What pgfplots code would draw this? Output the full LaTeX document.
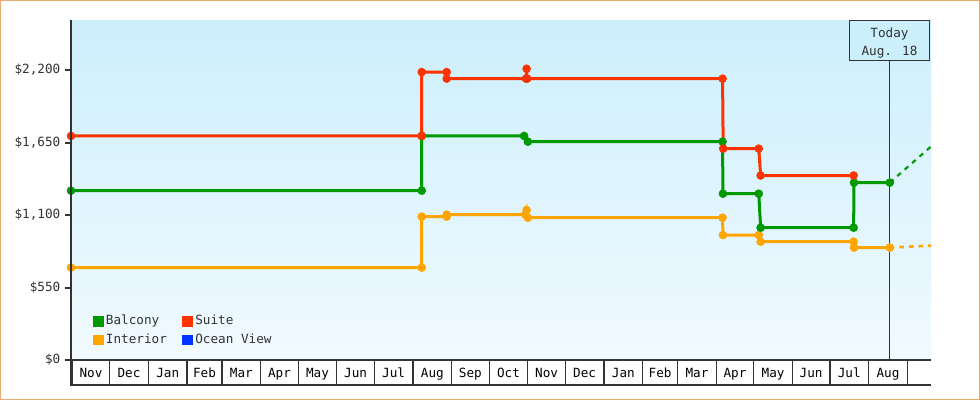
\documentclass[border=0pt]{standalone}
\usepackage{fontspec}
\setmainfont{DejaVu Sans Mono}
\usepackage{pgfplots}
\pgfplotsset{compat=1.18}
\definecolor{cBal}{RGB}{0,153,0}
\definecolor{cSui}{RGB}{255,51,0}
\definecolor{cInt}{RGB}{255,165,0}
\definecolor{cOce}{RGB}{0,51,255}
\definecolor{cGry}{RGB}{51,51,51}
\definecolor{bgtop}{RGB}{204,239,252}
\definecolor{bgbot}{RGB}{241,250,255}
\definecolor{cFrame}{RGB}{232,172,110}
\pgfplotsset{
  series/.style={line width=2.25pt, mark=*, mark size=3pt,
                 mark options={solid, line width=0.4pt}},
}
\newcommand{\lab}{\fontsize{9.5}{11}\selectfont}

\begin{document}
\begin{tikzpicture}
% background, frame and today line (pixel coordinates, y downwards)
\begin{scope}[x=0.75pt, y=-0.75pt]
  \useasboundingbox (0,0) rectangle (980,400);
  \fill[white] (0,0) rectangle (980,400);
  \shade[top color=bgtop, bottom color=bgbot] (71,20) rectangle (931,360);
  \draw[cGry, line width=0.75pt] (889.5,60) -- (889.5,360);
\end{scope}

\begin{axis}[
    at={(53.25pt,-270pt)}, anchor=south west,
    width=645pt, height=255pt, scale only axis,
    xmin=-1, xmax=688, ymin=0, ymax=2580,
    clip=false,
    axis line style={draw=none},
    xtick=\empty,
    ytick={0,550,1100,1650,2200},
    yticklabels={{\$0},{\$550},{\$1,100},{\$1,650},{\$2,200}},
    ytick pos=left,
    tick align=outside,
    major tick length=4.5pt,
    ytick style={draw=cGry, line width=1.5pt},
    yticklabel style={font=\lab, text=cGry},
    legend columns=2,
    legend cell align=left,
    legend image code/.code={\fill[#1, draw=none] (0pt,-4.1pt) rectangle (8.25pt,4.1pt);},
    legend style={draw=none, fill=none, inner sep=0pt,
      at={(axis description cs:0.0252,0.035)}, anchor=south west,
      font=\lab, text=cGry, row sep=2.5pt,
      nodes={inner sep=1.5pt},
      /tikz/every even column/.append style={column sep=10pt}},
  ]
  % Interior
  \addplot[series, color=cInt, forget plot] coordinates {
    (-1,701) (280,701) (280,1088) (300,1088) (300,1103) (363,1103)
    (364,1138) (365,1080) (521,1080) (521.3,948) (550,948) (551.5,898)
    (626,898) (626.3,853) (655,853)};
  \addplot[color=cInt, line width=2pt, dash pattern=on 3.4pt off 3.8pt,
    forget plot] coordinates {(655,853) (688,868)};
  % Balcony
  \addplot[series, color=cBal, forget plot] coordinates {
    (-1,1285) (280,1285) (280,1700) (362,1700) (365,1657) (521,1657)
    (521.3,1262) (550,1262) (551.5,1004) (626,1004) (626.3,1346) (655,1346)};
  \addplot[color=cBal, line width=1.6pt, dash pattern=on 3.6pt off 3.8pt,
    forget plot] coordinates {(655,1346) (688,1620)};
  % Suite
  \addplot[series, color=cSui, forget plot] coordinates {
    (-1,1700) (280,1700) (280,2185) (300,2185) (300,2135) (363.5,2135)
    (364,2210) (364.5,2135) (521,2135) (521.5,1604) (550,1604)
    (551.5,1400) (626,1400)};

  \addlegendimage{fill=cBal}\addlegendentry{Balcony}
  \addlegendimage{fill=cSui}\addlegendentry{Suite}
  \addlegendimage{fill=cInt}\addlegendentry{Interior}
  \addlegendimage{fill=cOce}\addlegendentry{Ocean View}
\end{axis}

% axis line, month boxes and today box
\begin{scope}[x=0.75pt, y=-0.75pt]
  \draw[cGry, line width=1.5pt] (71,20) -- (71,385.5);
  \draw[cGry, line width=0.9pt] (71,360) -- (931,360);
  \draw[cGry, line width=0.9pt] (71,385) -- (931,385);
  \foreach \a/\b/\m in {0/30/Nov, 30/61/Dec, 61/92/Jan, 92/120/Feb,
      120/151/Mar, 151/181/Apr, 181/212/May, 212/242/Jun, 242/273/Jul,
      273/304/Aug, 304/334/Sep, 334/365/Oct, 365/395/Nov, 395/426/Dec,
      426/457/Jan, 457/485/Feb, 485/516/Mar, 516/546/Apr, 546/577/May,
      577/607/Jun, 607/638/Jul, 638/669/Aug} {
    \pgfmathsetmacro\pa{71+(\a+1)/689*860}
    \pgfmathsetmacro\pb{71+(\b+1)/689*860}
    \draw[cGry, line width=0.9pt] (\pa,360) -- (\pa,385);
    \draw[cGry, line width=0.9pt] (\pb,360) -- (\pb,385);
    \node[anchor=base, font=\lab, text=black, inner sep=0pt]
      at ({(\pa+\pb)/2},377.5) {\m};
  }
  \draw[cGry, fill=bgtop, line width=0.9pt] (849.5,20.5) rectangle (929.5,60.5);
  \node[anchor=base, font=\lab, text=cGry, inner sep=0pt] at (889.5,37.5) {Today};
  \node[anchor=base, font=\lab, text=cGry, inner sep=0pt] at (889.5,55) {Aug. 18};
  \draw[cFrame, line width=0.9pt] (0.6,0.6) rectangle (979.4,399.4);
\end{scope}
\end{tikzpicture}
\end{document}
